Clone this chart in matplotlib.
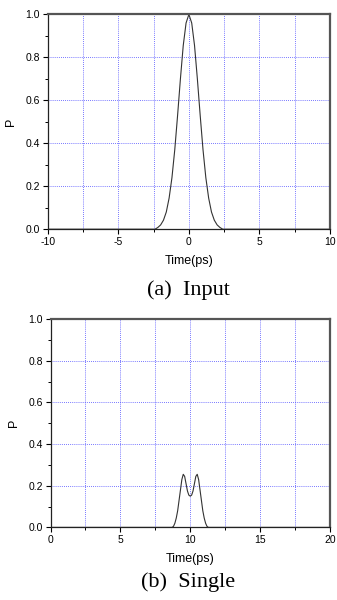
import matplotlib
matplotlib.use("Agg")
import matplotlib.pyplot as plt
from matplotlib.ticker import MultipleLocator, FormatStrFormatter

plt.rcParams["axes.unicode_minus"] = False

# (a) input pulse
t_in = [-10, -2.4, -2.2, -2.0, -1.8, -1.6, -1.4, -1.2, -1.0, -0.8, -0.6, -0.4, -0.2, 0.0,
        0.2, 0.4, 0.6, 0.8, 1.0, 1.2, 1.4, 1.6, 1.8, 2.0, 2.2, 2.4, 10]
p_in = [0.0, 0.0, 0.008, 0.02, 0.042, 0.08, 0.145, 0.24, 0.37, 0.53, 0.70, 0.855, 0.96, 1.0,
        0.96, 0.855, 0.70, 0.53, 0.37, 0.24, 0.145, 0.08, 0.042, 0.02, 0.008, 0.0, 0.0]

# (b) single, split pulse
t_out = [0, 8.7, 8.8, 8.9, 9.0, 9.1, 9.2, 9.3, 9.4, 9.5, 9.6, 9.7, 9.8, 9.9, 10.0,
         10.1, 10.2, 10.3, 10.4, 10.5, 10.6, 10.7, 10.8, 10.9, 11.0, 11.1, 11.2, 11.3, 20]
p_out = [0.0, 0.0, 0.005, 0.02, 0.045, 0.08, 0.13, 0.18, 0.23, 0.255, 0.245, 0.21, 0.175, 0.155, 0.15,
         0.155, 0.175, 0.21, 0.245, 0.255, 0.23, 0.18, 0.13, 0.08, 0.045, 0.02, 0.005, 0.0, 0.0]

captions = ["(a)  Input", "(b)  Single"]

fig = plt.figure(figsize=(3.37, 6.0), dpi=100)
ax1 = fig.add_axes([0.1415, 0.618, 0.838, 0.358])
ax2 = fig.add_axes([0.150, 0.121, 0.829, 0.347])

def style(ax, xlim, xmajor):
    ax.set_xlim(*xlim)
    ax.set_ylim(0, 1.0)
    ax.xaxis.set_major_locator(MultipleLocator(xmajor))
    ax.xaxis.set_minor_locator(MultipleLocator(xmajor / 2))
    ax.yaxis.set_major_locator(MultipleLocator(0.2))
    ax.yaxis.set_minor_locator(MultipleLocator(0.1))
    ax.yaxis.set_major_formatter(FormatStrFormatter("%.1f"))
    ax.grid(True, which="both", axis="x", color="#4a4aff", linestyle=(0, (1, 1.5)), linewidth=0.6)
    ax.grid(True, which="major", axis="y", color="#4a4aff", linestyle=(0, (1, 1.5)), linewidth=0.6)
    ax.tick_params(which="major", direction="out", length=3.5, width=0.8, labelsize=7.5, pad=2)
    ax.tick_params(which="minor", direction="out", length=2, width=0.7)
    for lab in ax.get_xticklabels() + ax.get_yticklabels():
        lab.set_family("Liberation Sans")
    for side in ["left", "bottom"]:
        ax.spines[side].set_linewidth(0.9)
        ax.spines[side].set_color("#222222")
    for side in ["top", "right"]:
        ax.spines[side].set_linewidth(1.6)
        ax.spines[side].set_color("#555555")
    ax.set_xlabel("Time(ps)", fontsize=9, family="Liberation Sans", labelpad=6)
    ax.set_ylabel("P", fontsize=9, family="Liberation Sans", labelpad=6)

ax1.plot(t_in, p_in, color="#333333", linewidth=0.8)
style(ax1, (-10, 10), 5)
ax2.plot(t_out, p_out, color="#333333", linewidth=0.8)
style(ax2, (0, 20), 5)

fig.text(0.558, 1 - 290 / 600, captions[0], ha="center", va="center",
         fontsize=16, family="Liberation Serif")
fig.text(0.558, 1 - 582 / 600, captions[1], ha="center", va="center",
         fontsize=16, family="Liberation Serif")

fig.savefig("out.png", dpi=100)
